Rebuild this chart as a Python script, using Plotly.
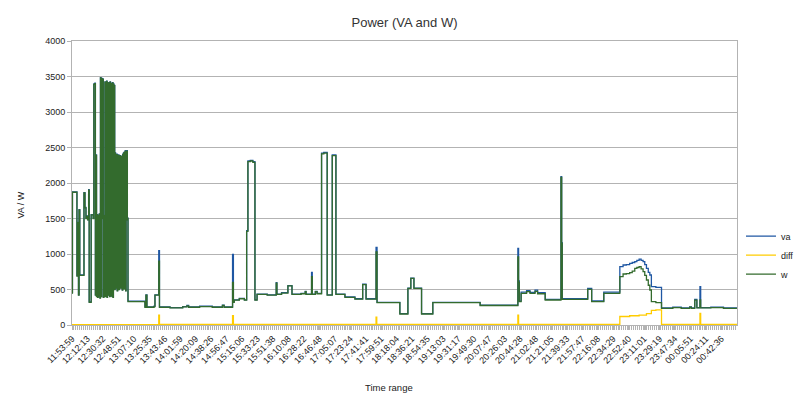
import plotly.graph_objects as go

# ---------------- data ----------------
# dense section (start of recording)
times_a = [
    "11:53:59", "11:54:30", "11:59:50", "12:00:50", "12:01:40", "12:02:20", "12:03:10", "12:08:10", "12:09:20", "12:10:30",
    "12:11:40", "12:12:30", "12:13:40", "12:14:20", "12:16:40", "12:19:00", "12:19:50", "12:21:00", "12:21:40", "12:22:20",
    "12:23:00", "12:23:40", "12:24:20", "12:25:00", "12:25:40", "12:26:20", "12:27:00", "12:27:40", "12:28:20", "12:29:00",
    "12:29:40", "12:30:20", "12:31:00", "12:31:40", "12:32:20", "12:33:00", "12:33:30", "12:34:00", "12:34:30", "12:35:00",
    "12:35:30", "12:36:00", "12:36:30", "12:37:00", "12:37:30", "12:38:00", "12:38:30", "12:39:00", "12:39:30", "12:40:00",
    "12:40:30", "12:41:00", "12:41:30", "12:42:00", "12:42:30", "12:43:00", "12:43:30", "12:44:00", "12:44:30", "12:45:00",
    "12:45:30", "12:46:00", "12:46:30", "12:47:00", "12:47:30", "12:48:00", "12:48:30", "12:49:00", "12:49:30", "12:50:00",
    "12:50:30", "12:51:00", "12:51:30", "12:52:00", "12:52:30", "12:53:00", "12:53:30", "12:54:00", "12:54:30", "12:55:00",
    "12:55:30", "12:56:00", "12:56:30", "12:57:00", "12:57:30", "12:58:00", "12:58:30", "12:59:00", "12:59:30", "13:00:15",
]
w_a = [
    450, 1870, 690, 1440, 420, 1620, 700, 1860, 1650, 1500,
    1530, 1480, 1900, 320, 1550, 1500, 3390, 3400, 420, 2390,
    400, 1550, 390, 1540, 410, 1560, 380, 3480, 400, 3470,
    1500, 3460, 390, 1540, 400, 3420, 400, 3400, 1540, 3430,
    390, 3380, 420, 3410, 1500, 3390, 400, 3420, 410, 3400,
    1520, 3380, 400, 3410, 390, 3390, 1400, 3370, 500, 2420,
    520, 2380, 1500, 2400, 480, 2350, 1450, 2390, 500, 2360,
    1480, 2380, 520, 2340, 1500, 2370, 490, 2400, 1450, 2420,
    510, 2430, 1500, 2450, 480, 2440, 1480, 2450, 1500, 330,
]
va_a = [
    455, 1875, 695, 1445, 425, 1625, 705, 1865, 1655, 1505,
    1535, 1485, 1905, 325, 1555, 1505, 3395, 3405, 425, 2395,
    405, 1555, 395, 1545, 415, 1565, 385, 3485, 405, 3475,
    1505, 3465, 395, 1545, 405, 3425, 405, 3405, 1545, 3435,
    395, 3385, 425, 3415, 1505, 3395, 405, 3425, 415, 3405,
    1525, 3385, 405, 3415, 395, 3395, 1405, 3375, 505, 2425,
    525, 2385, 1505, 2405, 485, 2355, 1455, 2395, 505, 2365,
    1485, 2385, 525, 2345, 1505, 2375, 495, 2405, 1455, 2425,
    515, 2435, 1505, 2455, 485, 2445, 1485, 2455, 1505, 335,
]

# rest of the recording
times_b = [
    "13:20:20", "13:21:30", "13:22:40", "13:31:00", "13:32:10", "13:36:40", "13:37:30", "13:50:00", "14:05:00", "14:10:00",
    "14:12:00", "14:25:00", "14:40:00", "14:52:00", "14:54:00", "15:04:00", "15:05:00", "15:06:00", "15:12:00", "15:18:00",
    "15:20:40", "15:22:10", "15:25:00", "15:28:00", "15:30:30", "15:33:00", "15:45:00", "15:55:40", "15:56:30", "16:02:00",
    "16:09:30", "16:14:20", "16:25:00", "16:30:00", "16:31:00", "16:37:30", "16:38:20", "16:42:00", "16:44:00", "16:49:20",
    "16:52:00", "16:56:00", "17:02:00", "17:06:20", "17:17:00", "17:28:50", "17:38:00", "17:42:00", "17:53:50", "17:55:00",
    "18:22:00", "18:31:30", "18:35:00", "18:38:40", "18:47:40", "19:01:00", "19:57:00", "20:41:40", "20:42:30", "20:43:20",
    "20:45:30", "20:52:00", "20:56:00", "21:02:00", "21:05:00", "21:14:00", "21:32:40", "21:33:30", "21:34:10", "22:04:20",
    "22:09:00", "22:23:20", "22:42:20", "22:46:10", "22:50:00", "22:54:00", "22:57:00", "23:00:00", "23:02:30", "23:05:10",
    "23:07:30", "23:09:50", "23:11:50", "23:13:50", "23:16:00", "23:17:50", "23:19:40", "23:25:00", "23:31:40", "23:45:00",
    "23:55:00", "00:05:00", "00:07:00", "00:11:00", "00:13:30", "00:17:10", "00:18:00", "00:30:00", "00:45:00", "01:00:40",
]
w_b = [
    250, 420, 250, 260, 420, 900, 250, 240, 255, 270,
    250, 260, 250, 275, 250, 600, 320, 350, 370, 350,
    1320, 2300, 2310, 2290, 350, 430, 420, 590, 430, 450,
    550, 430, 440, 470, 430, 680, 430, 470, 440, 2410,
    2420, 420, 2385, 430, 390, 365, 570, 365, 1030, 315,
    155, 516, 657, 516, 155, 315, 275, 960, 600, 330,
    446, 470, 445, 475, 440, 352, 2080, 1150, 362, 503,
    328, 446, 681, 718, 725, 737, 760, 798, 810, 821,
    790, 751, 700, 634, 560, 493, 329, 315, 235, 245,
    235, 250, 235, 350, 240, 352, 240, 245, 235, 230,
]
va_b = [
    255, 425, 255, 265, 425, 1046, 255, 245, 260, 275,
    255, 265, 255, 280, 255, 995, 330, 355, 375, 355,
    1330, 2310, 2320, 2300, 355, 435, 425, 595, 435, 455,
    555, 435, 445, 475, 435, 740, 435, 475, 445, 2420,
    2430, 425, 2395, 435, 395, 370, 575, 370, 1094, 320,
    160, 520, 660, 520, 160, 320, 280, 1080, 620, 335,
    462, 485, 460, 490, 455, 362, 2090, 1160, 372, 515,
    338, 462, 821, 845, 850, 868, 880, 892, 910, 929,
    910, 892, 850, 798, 740, 704, 540, 530, 240, 250,
    240, 255, 240, 360, 245, 540, 245, 250, 240, 235,
]

diff_times = [
    "11:53:59", "13:36:40", "13:37:30", "15:04:00", "15:05:00", "17:53:50", "17:54:40", "20:41:40", "20:42:30",
    "22:42:20", "22:54:00", "23:05:10", "23:13:50", "23:19:40", "23:25:00", "23:31:40", "00:17:10", "00:18:00", "01:00:40",
]
diff = [5, 140, 8, 130, 8, 110, 8, 140, 8, 120, 130, 140, 160, 205, 212, 8, 165, 8, 5]

tick_labels = [
    "11:53:59", "12:12:13", "12:30:32", "12:48:51", "13:07:10", "13:25:35", "13:43:46", "14:01:59", "14:20:09",
    "14:38:26", "14:56:47", "15:15:06", "15:33:23", "15:51:38", "16:10:08", "16:28:22", "16:46:48", "17:05:07",
    "17:23:24", "17:41:41", "17:59:51", "18:18:04", "18:36:21", "18:54:35", "19:13:03", "19:31:17", "19:49:30",
    "20:07:47", "20:26:03", "20:44:28", "21:02:48", "21:21:05", "21:39:33", "21:57:47", "22:16:08", "22:34:29",
    "22:52:40", "23:11:01", "23:29:19", "23:47:34", "00:05:51", "00:24:11", "00:42:36",
]


def to_dt(t):
    # recording runs past midnight
    day = "2021-01-02" if int(t[:2]) < 11 else "2021-01-01"
    return f"{day} {t}"


times = [to_dt(t) for t in times_a + times_b]
w = w_a + w_b
va = va_a + va_b
assert len(times) == len(w) == len(va)
dtimes = [to_dt(t) for t in diff_times]
tickvals = [to_dt(t) for t in tick_labels]

# ---------------- figure ----------------
GRID = "#b3b3b3"
fig = go.Figure()
fig.add_trace(go.Scatter(x=times, y=va, name="va", mode="lines",
                         line=dict(color="#1f57a3", width=1.3, shape="hv")))
fig.add_trace(go.Scatter(x=dtimes, y=diff, name="diff", mode="lines",
                         line=dict(color="#ffcc00", width=1.3, shape="hv")))
fig.add_trace(go.Scatter(x=times, y=w, name="w", mode="lines",
                         line=dict(color="#336b2d", width=1.3, shape="hv")))

fig.update_layout(
    width=800, height=406,
    margin=dict(l=72, r=63, t=41, b=81, autoexpand=False),
    paper_bgcolor="white", plot_bgcolor="white",
    font=dict(family="Liberation Sans, Arial, sans-serif", size=9, color="#222"),
    title=dict(text="Power (VA and W)", x=0.5, xref="paper", xanchor="center",
               y=1 - 22 / 406, yanchor="middle", automargin=False,
               font=dict(size=13, color="#333")),
    legend=dict(x=1.006, xanchor="left", y=0.246, yanchor="middle",
                font=dict(size=9), itemwidth=30, bgcolor="rgba(0,0,0,0)",
                tracegroupgap=0),
    annotations=[
        dict(text="Time range", xref="paper", yref="paper", x=0.477, y=-0.22,
             showarrow=False, xanchor="center", yanchor="middle", font=dict(size=9.5)),
        dict(text="VA / W", xref="paper", yref="paper", x=-0.0774, y=0.4225,
             showarrow=False, textangle=-90, xanchor="center", yanchor="middle", font=dict(size=9)),
    ],
)
fig.update_xaxes(
    type="date", automargin=False,
    range=[to_dt("11:53:59"), to_dt("01:01:00")],
    tickmode="array", tickvals=tickvals, ticktext=tick_labels, tickangle=-45,
    tickfont=dict(size=9, color="#222"),
    showgrid=False, zeroline=False,
    showline=True, linecolor=GRID, linewidth=1, mirror=True,
    ticks="outside", ticklen=4, tickcolor=GRID,
    minor=dict(ticks="outside", ticklen=4, tickcolor=GRID, dtick=137000,
               tick0=to_dt("11:53:59"), showgrid=False),
)
fig.update_yaxes(
    range=[0, 4000], dtick=500, automargin=False,
    tickfont=dict(size=9, color="#222"),
    showgrid=True, gridcolor=GRID, gridwidth=1, zeroline=False,
    showline=True, linecolor=GRID, linewidth=1, mirror=True,
    ticks="outside", ticklen=4, tickcolor=GRID,
)

fig.write_html("out.html", config={"displayModeBar": False},
               post_script="document.body.style.margin='0px';")
